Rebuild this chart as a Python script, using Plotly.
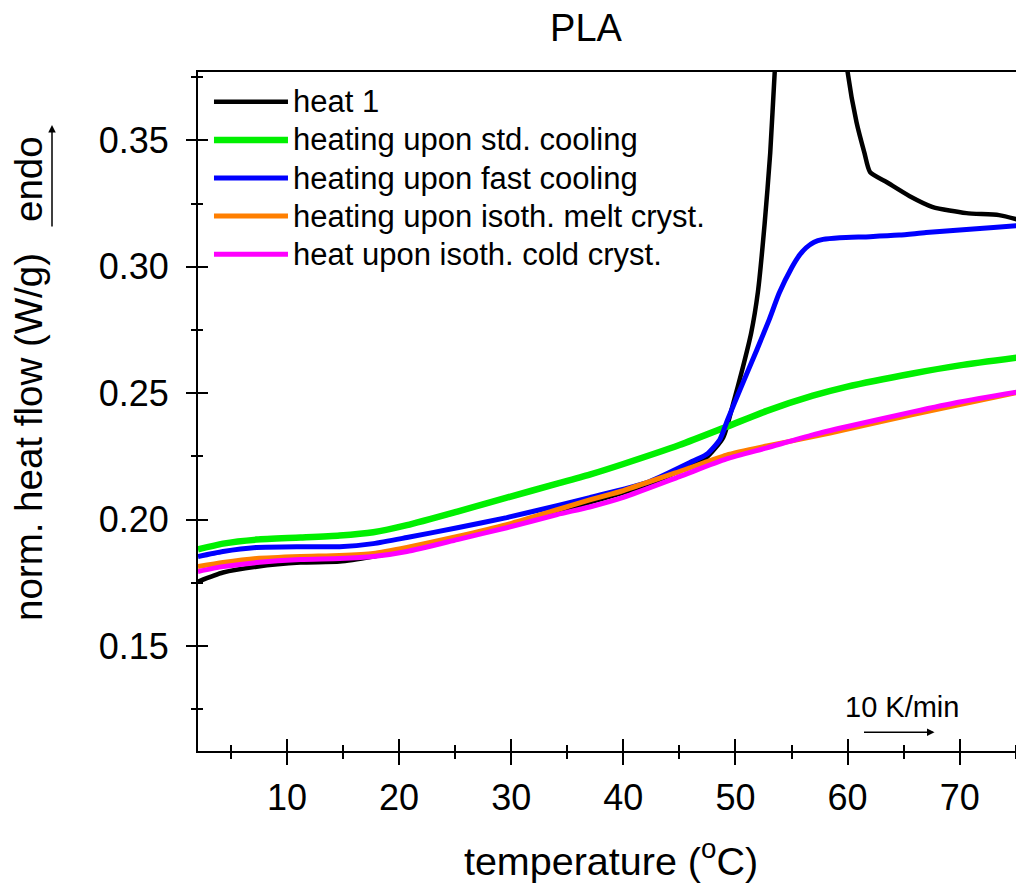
import plotly.graph_objects as go

# ---------------- data ----------------
T_common = [2.07, 4.3, 7.3, 11.2, 14.7, 17.7, 20.7, 25.2, 29.6, 34.1, 37.0,
            40.0, 45.0, 49.2, 52.8, 56.9, 59.9, 65.8, 70.0, 75.73]
green_std = [0.1882, 0.1905, 0.1921, 0.1929, 0.1937, 0.1950, 0.1978, 0.2032, 0.2087, 0.2142, 0.2178,
             0.2220, 0.2295, 0.2367, 0.2430, 0.2490, 0.2525, 0.2578, 0.2610, 0.2644]
orange_melt = [0.1814, 0.1830, 0.1846, 0.1854, 0.1858, 0.1866, 0.1890, 0.1933, 0.1980, 0.2039, 0.2078,
               0.2115, 0.2190, 0.2255, 0.2291, 0.2328, 0.2357, 0.2415, 0.2455, 0.2508]
magenta_cold = [0.1795, 0.1814, 0.1830, 0.1842, 0.1846, 0.1854, 0.1874, 0.1921, 0.1968, 0.2020, 0.2050,
                0.2088, 0.2170, 0.2240, 0.2284, 0.2335, 0.2367, 0.2426, 0.2465, 0.2509]

T_blue = [2.07, 4.3, 7.3, 11.2, 14.7, 17.7, 20.7, 25.2, 29.6, 34.1, 37.0, 42.1, 45.9, 47.4, 48.6,
          49.3, 50.4, 51.9, 53.0, 53.9, 55.0, 55.7, 56.3, 57.0, 57.8, 59.3, 62.0, 64.6, 67.0, 70.0,
          73.0, 75.73]
blue_fast = [0.1854, 0.1874, 0.1890, 0.1893, 0.1893, 0.1905, 0.1929, 0.1968, 0.2008, 0.2055, 0.2087,
             0.2146, 0.2225, 0.2257, 0.2316, 0.2395, 0.2513, 0.2671, 0.2790, 0.2896, 0.2995, 0.3045,
             0.3075, 0.3097, 0.3108, 0.3115, 0.3119, 0.3125, 0.3135, 0.3145, 0.3155, 0.3165]

T_heat1 = [2.07, 4.3, 7.3, 11.2, 14.7, 17.7, 20.7, 25.2, 29.6, 34.1, 37.0, 42.1, 45.9, 47.4, 48.9,
           49.8, 50.6, 51.4, 52.0, 52.6, 53.1, 53.5, 54.0, 55.0, 56.5, 58.0, 59.0, 59.6, 60.0, 60.8,
           61.5, 62.0, 63.5, 65.5, 67.6, 70.6, 73.5, 75.73]
heat1 = [0.1755, 0.1791, 0.1814, 0.1830, 0.1834, 0.1854, 0.1880, 0.1928, 0.1975, 0.2030, 0.2068,
         0.2135, 0.2212, 0.2245, 0.2324, 0.2460, 0.2592, 0.2738, 0.2900, 0.3170, 0.3450, 0.3770,
         0.4100, 0.4700, 0.5100, 0.4800, 0.4300, 0.3950, 0.3770, 0.3570, 0.3450, 0.3374, 0.3334,
         0.3280, 0.3236, 0.3212, 0.3204, 0.3180]

series_names = ["heat 1", "heating upon std. cooling", "heating upon fast cooling",
                "heating upon isoth. melt cryst.", "heat upon isoth. cold cryst."]

x_range = [2.07, 75.73]
y_range = [0.1085, 0.377]

FONT = "Liberation Sans, Arial, sans-serif"

# figure geometry (page body adds an 8 px offset)
W, H = 1016, 877
L, R, T, B = 190, 0, 64, 134
pw = W - L - R
ph = H - T - B


def px_x(p):
    return (p - L) / pw


def px_y(p):
    return (H - B - p) / ph


fig = go.Figure()
specs = [
    (T_heat1, heat1, series_names[0], "#000000", 4.5),
    (T_common, green_std, series_names[1], "#00F000", 6.5),
    (T_blue, blue_fast, series_names[2], "#0000FF", 5),
    (T_common, orange_melt, series_names[3], "#FF7F00", 5),
    (T_common, magenta_cold, series_names[4], "#FF00FF", 5),
]
for xs, ys, name, col, w in specs:
    fig.add_trace(go.Scatter(x=xs, y=ys, mode="lines",
                             name='<span style="font-size:31px">' + name + '</span>',
                             line=dict(color=col, width=w, shape="spline", smoothing=0.6),
                             hovertemplate=name + ": %{x:.1f} °C, %{y:.4f} W/g<extra></extra>"))

# helper trace so the overlay axes (inner tick halves) exist
fig.add_trace(go.Scatter(x=[None], y=[None], xaxis="x2", yaxis="y2",
                         showlegend=False, hoverinfo="skip"))

tickfont = dict(family=FONT, size=36, color="black")
fig.update_layout(
    width=W, height=H,
    margin=dict(l=L, r=R, t=T, b=B, autoexpand=False),
    paper_bgcolor="white", plot_bgcolor="white",
    font=dict(family=FONT, color="black"),
    title=dict(text="PLA", x=578 / W, xanchor="center", y=1 - 20 / H, yanchor="middle",
               font=dict(family=FONT, size=38, color="black")),
    showlegend=True,
    legend=dict(x=0.0133, y=0.9915, xanchor="left", yanchor="top",
                bgcolor="rgba(0,0,0,0)", borderwidth=0,
                font=dict(family=FONT, size=27, color="black"),
                itemwidth=74, tracegroupgap=0),
    xaxis=dict(range=x_range, showline=True, linecolor="black", linewidth=2, mirror=True,
               showgrid=False, zeroline=False, tick0=0, dtick=10,
               ticks="outside", ticklen=12, tickwidth=2, tickcolor="black",
               minor=dict(dtick=5, ticks="outside", ticklen=6, tickwidth=2, tickcolor="black"),
               tickfont=tickfont, ticklabelstandoff=2,
               title=dict(text="temperature (<sup>o</sup>C)", standoff=30,
                          font=dict(family=FONT, size=39.5, color="black"))),
    yaxis=dict(range=y_range, showline=True, linecolor="black", linewidth=2, mirror=False,
               showgrid=False, zeroline=False, tick0=0, dtick=0.05, tickformat=".2f",
               ticks="outside", ticklen=10, tickwidth=2, tickcolor="black",
               minor=dict(dtick=0.025, ticks="outside", ticklen=5, tickwidth=2, tickcolor="black"),
               tickfont=tickfont, ticklabelstandoff=10),
    xaxis2=dict(overlaying="x", matches="x", anchor="y", side="bottom", range=x_range,
                showline=False, showgrid=False, zeroline=False, showticklabels=False,
                tick0=0, dtick=10, ticks="inside", ticklen=12, tickwidth=2, tickcolor="black",
                minor=dict(dtick=5, ticks="inside", ticklen=6, tickwidth=2, tickcolor="black")),
    yaxis2=dict(overlaying="y", matches="y", anchor="x", side="left", range=y_range,
                showline=False, showgrid=False, zeroline=False, showticklabels=False,
                tick0=0, dtick=0.05, ticks="inside", ticklen=10, tickwidth=2, tickcolor="black",
                minor=dict(dtick=0.025, ticks="inside", ticklen=5, tickwidth=2, tickcolor="black")),
)

fig.add_annotation(text="norm. heat flow (W/g)", textangle=-90, showarrow=False,
                   xref="paper", yref="paper", x=px_x(20), y=px_y(429),
                   xanchor="center", yanchor="middle",
                   font=dict(family=FONT, size=38.5, color="black"))
fig.add_annotation(text="endo", textangle=-90, showarrow=False,
                   xref="paper", yref="paper", x=px_x(20), y=px_y(171),
                   xanchor="center", yanchor="middle",
                   font=dict(family=FONT, size=38.5, color="black"))
fig.add_annotation(text="", showarrow=True, xref="paper", yref="paper",
                   x=px_x(44), y=px_y(117), ax=0, ay=103,
                   arrowhead=2, arrowsize=1, arrowwidth=1.5, arrowcolor="black")
fig.add_annotation(text="10 K/min", showarrow=False, xref="x", yref="y",
                   x=64.81, y=0.1258, xanchor="center", yanchor="middle",
                   font=dict(family=FONT, size=29, color="black"))
fig.add_annotation(text="", showarrow=True, xref="x", yref="y",
                   x=67.75, y=0.1159, ax=-72, ay=0,
                   arrowhead=2, arrowsize=1, arrowwidth=1.5, arrowcolor="black")

fig.write_html("out.html")
